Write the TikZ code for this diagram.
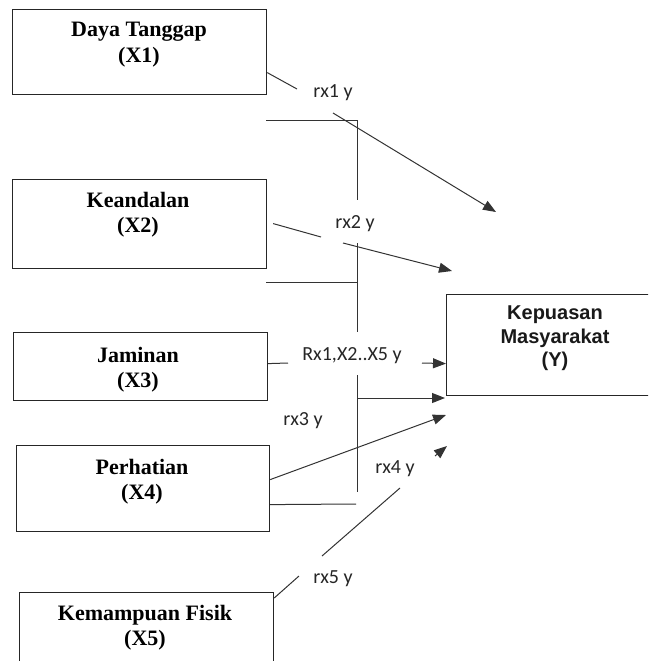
\documentclass[tikz,border=0pt]{standalone}
\usepackage{fontspec}
\setmainfont{Liberation Serif}
\newfontfamily\lblfont{Carlito}
\newfontfamily\arialfont{Liberation Sans}
\usetikzlibrary{arrows.meta}
\begin{document}
\begin{tikzpicture}[x=1pt,y=-1pt,
  box/.style={draw=black!85, line width=1.2pt, rectangle, inner sep=0pt, anchor=north west},
  ttl/.style={font=\bfseries\fontsize{22}{25.5}\selectfont, align=center, inner sep=0pt, anchor=north, text=black},
  lbl/.style={font=\lblfont\fontsize{20}{24}\selectfont, inner sep=0pt, anchor=base, text=black!85},
  ln/.style={draw=black!80, line width=1pt},
  arr/.style={ln, -{Triangle[length=13pt,width=10pt]}}]
\useasboundingbox (0,0) rectangle (648,661);
\clip (0,0) rectangle (648,661);
% boxes
\node[box, minimum width=254pt, minimum height=85pt] (x1) at (12,9) {};
\node[box, minimum width=254pt, minimum height=89pt] (x2) at (12,179) {};
\node[box, minimum width=254pt, minimum height=68pt] (x3) at (13,332) {};
\node[box, minimum width=253pt, minimum height=86pt] (x4) at (16,445) {};
\node[box, minimum width=254pt, minimum height=100pt] (x5) at (19,592) {};
\node[box, minimum width=222pt, minimum height=101pt] (y) at (446,294) {};
% titles
\node[ttl] (t1) at (139,22) {Daya Tanggap\\(X1)};
\node[ttl] (t2) at (138,192) {Keandalan\\(X2)};
\node[ttl] (t3) at (138,347) {Jaminan\\(X3)};
\node[ttl] (t4) at (142,459) {Perhatian\\(X4)};
\node[ttl] (t5) at (145,605) {Kemampuan Fisik\\(X5)};
\node[font=\arialfont\bfseries\fontsize{20}{23.3}\selectfont, align=center, inner sep=0pt, anchor=north, text=black!90] (ty) at (555,306) {Kepuasan\\Masyarakat\\(Y)};
% labels
\node[lbl] (l1) at (333,97) {rx1 y};
\node[lbl] (l2) at (355,228) {rx2 y};
\node[lbl] (l0) at (352,360) {Rx1,X2..X5 y};
\node[lbl] (l3) at (303,425) {rx3 y};
\node[lbl] (l4) at (395,473) {rx4 y};
\node[lbl] (l5) at (333,583) {rx5 y};
% coordinates
\coordinate (a1) at (297,89);
\coordinate (b1) at (333,113);
\coordinate (e1) at (496,212);
\coordinate (h1) at (266,120);
\coordinate (v1) at (357,120);
\coordinate (v1b) at (357,200);
\coordinate (a2) at (321,237);
\coordinate (b2) at (343,243);
\coordinate (e2) at (452,271);
\coordinate (v2) at (357,243);
\coordinate (v2b) at (357,332);
\coordinate (h2) at (266,282);
\coordinate (h2b) at (357,282);
\coordinate (a3) at (288,363);
\coordinate (b3) at (422,363);
\coordinate (v3) at (357,375);
\coordinate (v3b) at (357,492);
\coordinate (h3) at (357,398);
\coordinate (e3) at (445,398);
\coordinate (e4) at (446,415);
\coordinate (h4b) at (356,504);
\coordinate (a4) at (322,556);
\coordinate (b4) at (400,488);
\coordinate (c4) at (435,456);
\coordinate (e5) at (447,446);
\coordinate (a5) at (299,576);
% connectors
\draw[ln] ([yshift=-20.5pt]x1.east) -- (a1);
\draw[arr] (b1) -- (e1);
\draw[ln] (h1) -- (v1) -- (v1b);
\draw[ln] ([xshift=6pt,yshift=0.5pt]x2.east) -- (a2);
\draw[arr] (b2) -- (e2);
\draw[ln] (v2) -- (v2b);
\draw[ln] (h2) -- (h2b);
\draw[ln] ([yshift=3pt]x3.east) -- (a3);
\draw[arr] (b3) -- ([yshift=-18.5pt]y.west);
\draw[ln] (v3) -- (v3b);
\draw[arr] (h3) -- (e3);
\draw[arr] ([yshift=9pt]x4.east) -- (e4);
\draw[ln] ([yshift=-16pt]x4.east) -- (h4b);
\draw[ln] (a4) -- (b4);
\draw[arr] (c4) -- (e5);
\draw[ln] ([yshift=-6pt]x5.north east) -- (a5);
\end{tikzpicture}
\end{document}
